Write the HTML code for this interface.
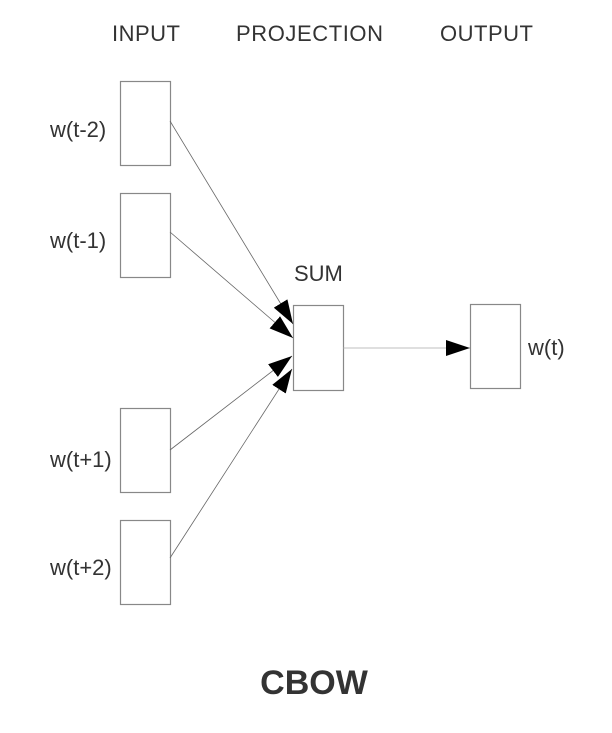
<!DOCTYPE html>
<html><head><style>body{margin:0;background:#fff}</style></head><body>
<svg width="612" height="728" xmlns="http://www.w3.org/2000/svg" font-family="Liberation Sans, Arial, sans-serif">
<defs>
<marker id="b" markerWidth="24" markerHeight="16" refX="24" refY="8" orient="auto" markerUnits="userSpaceOnUse" viewBox="0 0 24 16"><path d="M0,0 L24,8 L0,16 Z" fill="#000"/></marker></defs>
<g font-size="22" fill="#333">
<text x="112" y="41" textLength="68">INPUT</text><text x="236" y="41" textLength="147">PROJECTION</text><text x="440" y="41" textLength="93">OUTPUT</text>
<text x="50" y="137">w(t-2)</text><text x="50" y="248">w(t-1)</text><text x="50" y="467">w(t+1)</text><text x="50" y="575">w(t+2)</text>
<text x="294" y="281">SUM</text><text x="528" y="355">w(t)</text>
</g>
<g fill="#fff" stroke="#888" stroke-width="1.2">
<rect x="120.5" y="81.5" width="50" height="84"/><rect x="120.5" y="193.5" width="50" height="84"/>
<rect x="120.5" y="408.5" width="50" height="84"/><rect x="120.5" y="520.5" width="50" height="84"/>
<rect x="293.5" y="305.5" width="50" height="85"/><rect x="470.5" y="304.5" width="50" height="84"/>
</g>
<g stroke="#666" stroke-width="0.8">
<line x1="170" y1="121" x2="293" y2="324" marker-end="url(#b)"/>
<line x1="170" y1="232" x2="293" y2="338" marker-end="url(#b)"/>
<line x1="170" y1="450" x2="292" y2="356" marker-end="url(#b)"/>
<line x1="170" y1="558" x2="292" y2="369" marker-end="url(#b)"/>
<line x1="343" y1="348" x2="470" y2="348" stroke="#aaa" marker-end="url(#b)"/>
</g>
<text x="314" y="694" font-size="34" font-weight="bold" fill="#333" text-anchor="middle">CBOW</text>
</svg>
</body></html>
